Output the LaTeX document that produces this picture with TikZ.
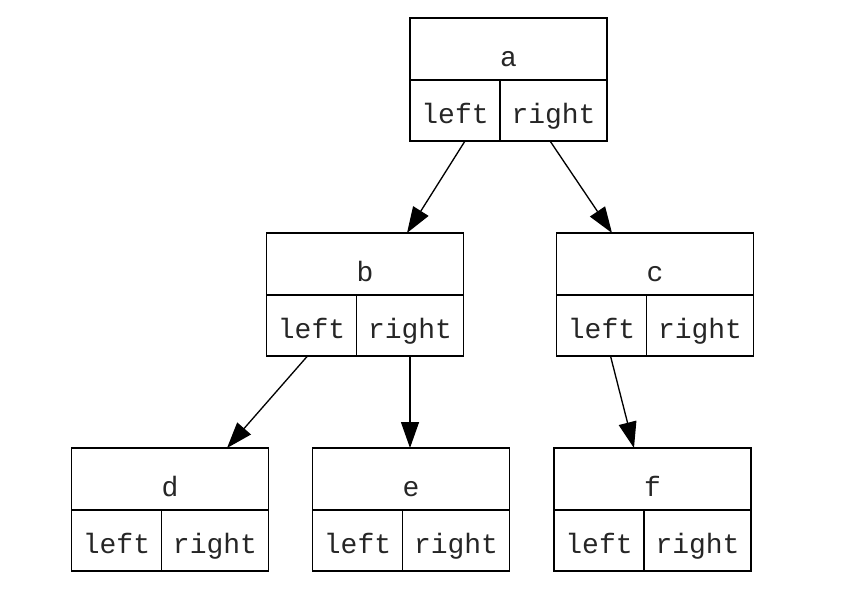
\documentclass[tikz,border=0pt]{standalone}
\usepackage{fontspec}
\newfontfamily\recfont{Liberation Mono}
\usepackage{tikz}
\usetikzlibrary{positioning,arrows.meta}
\tikzset{
  rec-part/.style={draw=black,line width=1pt,inner sep=0pt,outer sep=0pt,
    font=\recfont\fontsize{21}{25}\selectfont,text=black!85,
    text height=21pt,text depth=2pt},
  rec-top/.style={rec-part,minimum width=147.75pt,minimum height=46.5pt,
    text height=28pt},
  rec-left/.style={rec-part,minimum width=67.5pt,minimum height=45.75pt},
  rec-right/.style={rec-part,minimum width=80.25pt,minimum height=45.75pt},
  arrow/.style={-{Triangle[length=19.5pt,width=13.5pt]},line width=1pt},
}
\begin{document}
\begin{tikzpicture}[x=0.75pt,y=-0.75pt]
  \fill[white] (0,0) rectangle (862,590);
  \useasboundingbox (0,0) rectangle (862,590);
  % records: name / centre x / top y
  \foreach \n/\cx/\ty in {a/508.5/18,b/365/233,c/655/233,
                          d/170/448,e/411/448,f/652.5/448}{
    \node[rec-top,anchor=north] (\n) at (\cx,\ty) {\n};
    \node[rec-left,anchor=north west] (\n-l) at (\n.south west) {left};
    \node[rec-right,anchor=north east] (\n-r) at (\n.south east) {right};
  }
  \draw[arrow] ([xshift=7.5pt]a-l.south)  -- ([xshift=31.5pt]b.north);
  \draw[arrow] ([xshift=-2.6pt]a-r.south) -- ([xshift=-32.25pt]c.north);
  \draw[arrow] ([xshift=-3pt]b-l.south)   -- ([xshift=42.75pt]d.north);
  \draw[arrow] (b-r.south)                -- (b-r.south |- e.north);
  \draw[arrow] ([xshift=6.75pt]c-l.south) -- ([xshift=-13.9pt]f.north);
\end{tikzpicture}
\end{document}
